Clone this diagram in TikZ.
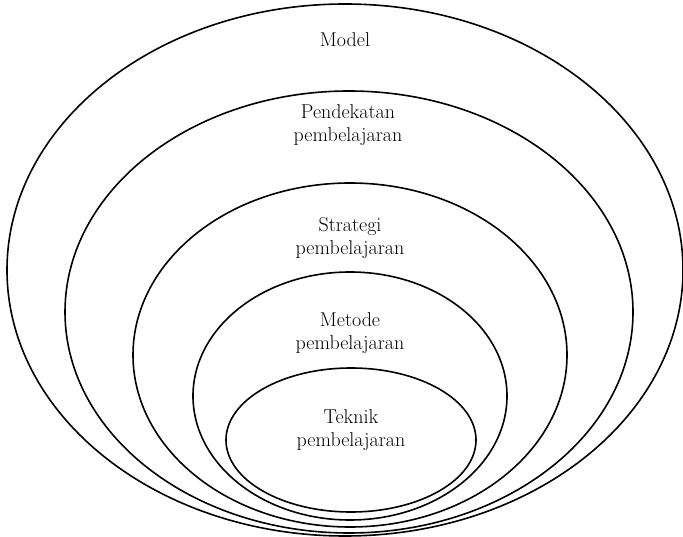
\documentclass[tikz,border=0pt]{standalone}
\usepackage[]{tikz}
\usetikzlibrary{positioning}

\begin{document}
\begin{tikzpicture}[
        x=1pt, y=-1pt,
        align=center,
        ring/.style = {draw, line width=1.6pt},
        txt/.style = {font=\fontsize{20}{22.5}\selectfont, inner sep=0pt}
    ]

        \useasboundingbox (0,0) rectangle (683,537);

        \draw[ring] (345,270) ellipse [x radius=338, y radius=266];
        \draw[ring] (349,312) ellipse [x radius=284, y radius=221];
        \draw[ring] (350,355) ellipse [x radius=217, y radius=172];
        \draw[ring] (350,396) ellipse [x radius=157, y radius=124];
        \draw[ring] (351,440) ellipse [x radius=125, y radius=72];

        \node[txt] (model) at (345,40) {Model};
        \node[txt] (pendekatan) at (348,125) {Pendekatan\\pembelajaran};
        \node[txt] (strategi) at (350,238) {Strategi\\pembelajaran};
        \node[txt] (metode) at (350,333) {Metode\\pembelajaran};
        \node[txt] (teknik) at (351,430) {Teknik\\pembelajaran};

    \end{tikzpicture}
\end{document}
